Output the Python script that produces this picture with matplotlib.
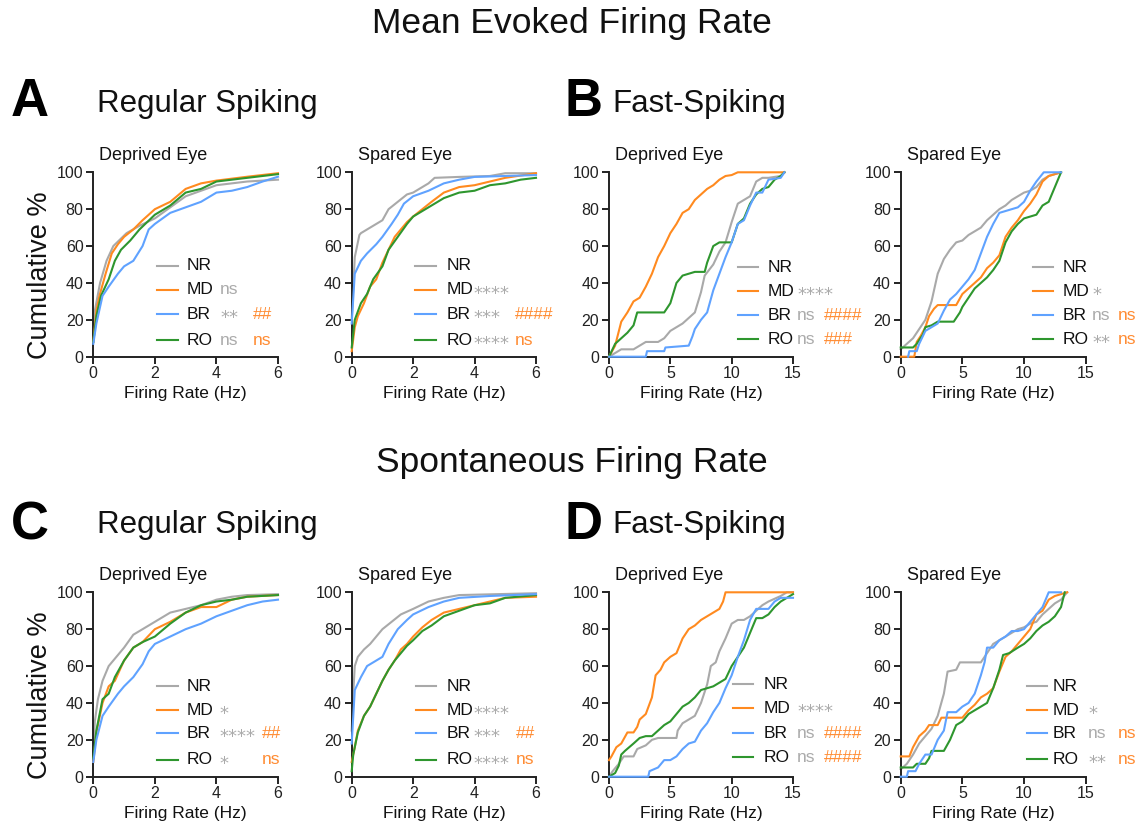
import matplotlib
matplotlib.use("Agg")
import matplotlib.pyplot as plt
from matplotlib.lines import Line2D

plt.rcParams['font.family'] = ['Liberation Sans', 'DejaVu Sans']

W, H = 1143, 830
C_NR = '#A9A9A9'
C_MD = '#FF8A1F'
C_BR = '#5FA2FF'
C_RO = '#2E962E'
C_STAR = '#ABABAB'
C_HASH = '#FF8C33'
C_AX = '#222222'

groups = ['NR', 'MD', 'BR', 'RO']

# ---------------- Panel A, Deprived Eye (RS evoked) ----------------
A_dep_NR_x = [0, 0.05, 0.22, 0.43, 0.65, 1.08, 1.5, 2.0, 2.5, 3.0, 3.5, 4.0, 5.0, 6.0]
A_dep_NR_y = [8, 25, 40, 52, 60, 67, 71, 75, 81, 87, 90, 93, 95, 96]
A_dep_MD_x = [0, 0.1, 0.2, 0.4, 0.6, 0.8, 1.0, 1.3, 1.6, 2.0, 2.5, 3.0, 3.5, 4.0, 5.0, 6.0]
A_dep_MD_y = [8, 25, 33, 45, 56, 61, 65, 69, 74, 80, 84, 91, 94, 95.5, 97.6, 99.5]
A_dep_BR_x = [0, 0.1, 0.3, 0.5, 0.8, 1.0, 1.3, 1.6, 1.8, 2.0, 2.5, 3.0, 3.5, 4.0, 4.5, 5.0, 5.5, 6.0]
A_dep_BR_y = [7, 18, 33, 38, 45, 49, 52, 60, 69, 72, 78, 81, 84, 89, 90, 92, 95, 97.6]
A_dep_RO_x = [0, 0.1, 0.25, 0.5, 0.7, 0.9, 1.2, 1.5, 2.0, 2.5, 3.0, 3.5, 4.0, 5.0, 6.0]
A_dep_RO_y = [8, 22, 33, 42, 52, 58, 63, 69, 77, 82, 89, 91, 95, 97, 99]

# ---------------- Panel A, Spared Eye ----------------
A_spa_NR_x = [0, 0.1, 0.25, 0.3, 0.5, 0.8, 1.0, 1.2, 1.5, 1.8, 2.0, 2.3, 2.5, 2.7, 3.5, 4.5, 5.0, 6.0]
A_spa_NR_y = [20, 54, 66, 67, 69, 72, 74, 80, 84, 88, 89, 92, 94, 97, 97.5, 98, 99.5, 99.5]
A_spa_MD_x = [0, 0.1, 0.2, 0.4, 0.6, 0.8, 1.0, 1.2, 1.4, 1.6, 1.8, 2.0, 2.3, 2.6, 3.0, 3.5, 4.0, 4.5, 5.0, 6.0]
A_spa_MD_y = [3, 16, 22, 29, 38, 42, 51, 58, 65, 69, 73, 76, 80, 84, 89, 92, 93, 95, 97, 99.5]
A_spa_BR_x = [0, 0.1, 0.3, 0.5, 0.8, 1.0, 1.3, 1.5, 1.7, 2.0, 2.5, 3.0, 3.5, 4.0, 5.0, 6.0]
A_spa_BR_y = [18, 45, 52, 56, 61, 65, 72, 77, 83, 87, 90, 94, 96, 97.5, 98, 98.5]
A_spa_RO_x = [0, 0.1, 0.3, 0.5, 0.7, 1.0, 1.2, 1.5, 1.8, 2.0, 2.5, 3.0, 3.5, 4.0, 4.5, 5.0, 5.5, 6.0]
A_spa_RO_y = [5, 20, 29, 34, 42, 49, 58, 65, 72, 76, 81, 86, 89, 90, 93, 94, 96, 97]

# ---------------- Panel B, Deprived Eye (FS evoked) ----------------
B_dep_NR_x = [0, 0.5, 1, 2, 2.5, 3, 4, 4.5, 5, 5.5, 6, 6.5, 7, 7.5, 7.8, 8.5, 9, 9.5, 10, 10.5, 11, 11.5, 12, 12.5, 13, 14, 14.3]
B_dep_NR_y = [0, 2, 4, 4, 6, 8, 8, 10, 14, 16, 18, 21, 24, 35, 44, 50, 57, 62, 73, 83, 85, 87, 95, 97, 97, 98, 100]
B_dep_MD_x = [0, 0.5, 1, 1.5, 2, 2.5, 3, 3.5, 4, 4.5, 5, 5.5, 6, 6.5, 7, 7.5, 8, 8.5, 9, 9.5, 10, 10.5, 14.3]
B_dep_MD_y = [0, 6, 19, 24, 30, 32, 38, 45, 54, 60, 67, 72, 78, 80, 85, 88, 91, 93, 96, 98, 98.5, 100, 100]
B_dep_BR_x = [0, 3, 3.1, 4.5, 4.6, 6.5, 6.8, 7, 7.5, 8, 8.5, 9, 9.5, 10, 10.5, 11, 11.5, 12, 12.5, 13, 14, 14.3]
B_dep_BR_y = [0, 0, 3, 3, 5, 6, 11, 15, 20, 24, 36, 45, 54, 62, 72, 74, 82, 89, 89, 96, 97, 100]
B_dep_RO_x = [0, 0.5, 1, 1.5, 2, 2.3, 4.5, 5, 5.5, 6, 7, 7.8, 8, 8.5, 9, 10, 10.5, 11, 11.5, 12, 12.5, 13, 13.5, 14, 14.3]
B_dep_RO_y = [0, 7, 10, 13, 17, 24, 24, 29, 40, 44, 46, 46, 51, 60, 62, 62, 72, 75, 83, 88, 91, 92, 96, 98, 100]

# ---------------- Panel B, Spared Eye ----------------
B_spa_NR_x = [0, 0.5, 1, 1.5, 2, 2.5, 3, 3.5, 4, 4.5, 5, 5.5, 6, 6.5, 7, 7.5, 8, 8.5, 9, 9.5, 10, 10.5, 11, 11.5, 12, 13]
B_spa_NR_y = [4, 7, 10, 15, 20, 30, 45, 53, 58, 62, 63, 66, 68, 70, 74, 77, 80, 82, 85, 87, 89, 90, 92, 96, 98, 100]
B_spa_MD_x = [0, 1.1, 1.3, 1.6, 2, 2.3, 2.7, 3, 4.5, 5, 5.5, 6, 6.5, 7, 7.5, 8, 8.5, 9, 9.5, 10, 10.5, 11, 11.5, 12, 13]
B_spa_MD_y = [0, 0, 8, 11, 16, 22, 26, 28, 28, 34, 37, 40, 43, 48, 51, 55, 65, 70, 74, 79, 83, 88, 95, 98, 100]
B_spa_BR_x = [0.6, 0.7, 1.3, 1.5, 2, 2.5, 3, 3.5, 4, 4.5, 5, 5.5, 6, 6.5, 7, 7.5, 8, 9, 9.5, 10, 10.5, 11, 11.6, 13]
B_spa_BR_y = [0, 3, 3, 7, 14, 16, 18, 25, 31, 34, 38, 42, 47, 56, 65, 72, 78, 80, 81, 84, 90, 95, 100, 100]
B_spa_RO_x = [0, 1, 1.3, 1.8, 2, 2.5, 3, 4.3, 4.8, 5, 5.5, 6, 6.5, 7, 7.5, 8, 8.5, 9, 9.5, 10, 11, 11.5, 12, 12.5, 13]
B_spa_RO_y = [5, 5, 7, 12, 16, 17, 19, 19, 24, 27, 32, 37, 40, 43, 47, 52, 62, 68, 72, 75, 77, 82, 84, 92, 100]

# ---------------- Panel C, Deprived Eye (RS spontaneous) ----------------
C_dep_NR_x = [0, 0.05, 0.15, 0.3, 0.5, 0.8, 1.0, 1.3, 1.6, 2.0, 2.5, 3.0, 3.5, 4.0, 4.5, 5.0, 6.0]
C_dep_NR_y = [12, 30, 42, 52, 60, 66, 70, 77, 80, 84, 89, 91, 93, 96, 97.6, 98.5, 99]
C_dep_MD_x = [0, 0.1, 0.3, 0.5, 0.7, 1.0, 1.3, 1.6, 2.0, 2.5, 3.0, 3.5, 4.0, 4.5, 5.0, 6.0]
C_dep_MD_y = [8, 24, 40, 49, 52, 63, 70, 73, 80, 84, 89, 92, 92, 96, 97.6, 98.5]
C_dep_BR_x = [0, 0.1, 0.3, 0.5, 0.8, 1.0, 1.3, 1.6, 1.8, 2.0, 2.5, 3.0, 3.5, 4.0, 4.5, 5.0, 5.5, 6.0]
C_dep_BR_y = [8, 20, 33, 38, 45, 49, 54, 61, 68, 72, 76, 80, 83, 87, 90, 93, 95, 96]
C_dep_RO_x = [0, 0.1, 0.3, 0.5, 0.7, 1.0, 1.3, 1.6, 2.0, 2.5, 3.0, 3.5, 4.0, 4.5, 5.0, 6.0]
C_dep_RO_y = [10, 25, 42, 45, 54, 63, 70, 73, 76, 83, 89, 93, 95, 96, 97.6, 98.5]

# ---------------- Panel C, Spared Eye ----------------
C_spa_NR_x = [0, 0.05, 0.1, 0.2, 0.4, 0.6, 0.8, 1.0, 1.3, 1.6, 2.0, 2.5, 3.0, 3.5, 6.0]
C_spa_NR_y = [25, 45, 60, 65, 69, 72, 76, 80, 84, 88, 91, 95, 97, 98.5, 99.5]
C_spa_MD_x = [0, 0.1, 0.2, 0.4, 0.6, 0.8, 1.0, 1.2, 1.4, 1.6, 1.8, 2.0, 2.3, 2.6, 3.0, 3.5, 4.0, 4.5, 5.0, 6.0]
C_spa_MD_y = [8, 16, 25, 33, 38, 45, 52, 58, 63, 69, 72, 76, 81, 85, 89, 91, 93, 95, 97, 97.6]
C_spa_BR_x = [0, 0.1, 0.3, 0.5, 0.8, 1.0, 1.2, 1.5, 1.8, 2.0, 2.5, 3.0, 3.5, 4.5, 6.0]
C_spa_BR_y = [18, 47, 54, 60, 63, 65, 72, 80, 85, 88, 92, 95, 97, 98, 99]
C_spa_RO_x = [0, 0.05, 0.2, 0.4, 0.6, 0.8, 1.0, 1.2, 1.4, 1.6, 1.8, 2.0, 2.3, 2.6, 3.0, 3.5, 4.0, 4.5, 5.0, 6.0]
C_spa_RO_y = [3, 12, 24, 33, 38, 45, 52, 58, 63, 67, 71, 74, 79, 82, 87, 90, 93, 94, 97, 98.5]

# ---------------- Panel D, Deprived Eye (FS spontaneous) ----------------
D_dep_NR_x = [0, 0.3, 0.8, 1.2, 2, 2.3, 3, 3.5, 4, 5.5, 5.6, 6, 6.5, 7, 7.5, 8, 8.3, 8.7, 9, 9.5, 10, 10.5, 11, 11.5, 12, 12.5, 13, 14, 14.5, 15]
D_dep_NR_y = [0, 3, 7, 11, 11, 15, 17, 20, 21, 21, 25, 29, 31, 33, 40, 50, 60, 62, 68, 75, 83, 85, 85, 87, 90, 93, 95, 98, 100, 100]
D_dep_MD_x = [0, 0.2, 0.6, 1, 1.5, 2, 2.3, 2.5, 3, 3.5, 3.8, 4.2, 4.5, 5, 5.5, 6, 6.5, 7, 7.5, 8, 8.5, 9, 9.3, 9.5, 15]
D_dep_MD_y = [9, 11, 16, 18, 24, 24, 27, 31, 34, 43, 55, 58, 62, 65, 67, 75, 80, 82, 85, 87, 89, 91, 95, 100, 100]
D_dep_BR_x = [0, 3.2, 3.3, 4, 4.5, 5, 5.5, 6, 6.5, 7, 7.5, 8, 8.5, 9, 9.5, 10, 10.5, 11, 11.5, 12, 13, 13.5, 14, 15]
D_dep_BR_y = [0, 0, 3, 5, 9, 9, 11, 15, 18, 19, 25, 29, 35, 40, 48, 55, 65, 74, 85, 91, 91, 95, 97, 97]
D_dep_RO_x = [0, 0.5, 0.8, 1.0, 1.3, 2, 2.5, 3, 3.5, 4, 4.5, 5, 5.5, 6, 6.5, 7, 7.5, 8, 8.5, 9, 9.5, 10, 10.5, 11, 11.5, 12, 12.5, 13, 13.5, 14, 14.5, 15]
D_dep_RO_y = [0, 2, 6, 12, 14, 18, 21, 22, 22, 25, 28, 30, 34, 38, 40, 43, 47, 48, 49, 51, 53, 60, 65, 70, 78, 86, 86, 88, 92, 95, 97, 99]

# ---------------- Panel D, Spared Eye ----------------
D_spa_NR_x = [0, 0.5, 1, 1.5, 2, 2.5, 3, 3.5, 3.8, 4.5, 4.8, 6.5, 7, 7.5, 8, 8.5, 9, 9.5, 10, 10.5, 11, 11.5, 12, 12.5, 13, 13.5]
D_spa_NR_y = [4, 7, 12, 18, 22, 26, 33, 45, 57, 58, 62, 62, 67, 72, 74, 76, 78, 80, 81, 83, 84, 88, 91, 94, 96, 100]
D_spa_MD_x = [0, 0.7, 1, 1.5, 2, 2.3, 3, 3.3, 5, 5.5, 6, 6.5, 7, 7.5, 8, 8.5, 9, 9.5, 10, 10.5, 11, 11.5, 12, 12.5, 13.5]
D_spa_MD_y = [11, 11, 16, 22, 25, 28, 28, 32, 32, 36, 39, 43, 45, 48, 57, 65, 68, 72, 76, 80, 88, 90, 96, 98, 100]
D_spa_BR_x = [0, 0.5, 0.6, 1.2, 1.5, 2, 2.5, 3, 3.5, 3.8, 4.5, 5, 5.5, 6, 6.5, 6.8, 7, 7.5, 8, 8.5, 9, 9.5, 10, 10.5, 11, 11.5, 12, 13]
D_spa_BR_y = [0, 0, 3, 3, 7, 12, 12, 20, 25, 35, 35, 38, 40, 45, 55, 62, 70, 70, 74, 76, 79, 79, 80, 84, 88, 92, 100, 100]
D_spa_RO_x = [0, 1, 1.3, 2, 2.3, 2.5, 3.5, 4, 4.5, 5, 5.5, 6, 6.5, 7, 7.5, 8, 8.3, 8.8, 9.5, 10, 10.5, 11, 11.5, 12, 12.5, 13, 13.3]
D_spa_RO_y = [5, 5, 7, 7, 10, 14, 14, 20, 28, 30, 34, 36, 38, 40, 48, 58, 66, 67, 70, 72, 75, 79, 82, 84, 87, 92, 100]

# Significance annotations (vs NR, vs MD)
A_dep_sig = ['', 'ns', '**', 'ns'];        A_dep_hash = ['', '', '##', 'ns']
A_spa_sig = ['', '****', '***', '****'];   A_spa_hash = ['', '', '####', 'ns']
B_dep_sig = ['', '****', 'ns', 'ns'];      B_dep_hash = ['', '', '####', '###']
B_spa_sig = ['', '*', 'ns', '**'];         B_spa_hash = ['', '', 'ns', 'ns']
C_dep_sig = ['', '*', '****', '*'];        C_dep_hash = ['', '', '##', 'ns']
C_spa_sig = ['', '****', '***', '****'];   C_spa_hash = ['', '', '##', 'ns']
D_dep_sig = ['', '****', 'ns', 'ns'];      D_dep_hash = ['', '', '####', '####']
D_spa_sig = ['', '*', 'ns', '**'];         D_spa_hash = ['', '', 'ns', 'ns']

fig = plt.figure(figsize=(W / 100, H / 100), dpi=100)
fig.patch.set_facecolor('white')


def fx(px):
    return px / W


def fy(py):
    return 1 - py / H


def add_axes(x0, x1, ytop, ybot):
    return fig.add_axes([fx(x0), fy(ybot), fx(x1 - x0), (ybot - ytop) / H])


panels = [
    dict(box=(93.3, 278, 172.3, 356.7), xmax=6, xt=[0, 2, 4, 6], title='Deprived Eye',
         data=[(A_dep_NR_x, A_dep_NR_y), (A_dep_MD_x, A_dep_MD_y), (A_dep_BR_x, A_dep_BR_y), (A_dep_RO_x, A_dep_RO_y)],
         leg=(157, 178, 187, 220, 253, [266, 290, 314, 340]), sig=A_dep_sig, hsh=A_dep_hash),
    dict(box=(351.7, 536, 172.3, 356.7), xmax=6, xt=[0, 2, 4, 6], title='Spared Eye',
         data=[(A_spa_NR_x, A_spa_NR_y), (A_spa_MD_x, A_spa_MD_y), (A_spa_BR_x, A_spa_BR_y), (A_spa_RO_x, A_spa_RO_y)],
         leg=(415, 436, 447, 473, 515, [266, 290, 314, 340]), sig=A_spa_sig, hsh=A_spa_hash),
    dict(box=(609, 793, 172.3, 356.7), xmax=15, xt=[0, 5, 10, 15], title='Deprived Eye',
         data=[(B_dep_NR_x, B_dep_NR_y), (B_dep_MD_x, B_dep_MD_y), (B_dep_BR_x, B_dep_BR_y), (B_dep_RO_x, B_dep_RO_y)],
         leg=(738, 758, 768, 797, 824, [267, 291, 315, 339]), sig=B_dep_sig, hsh=B_dep_hash),
    dict(box=(900.7, 1085.7, 172.3, 356.7), xmax=15, xt=[0, 5, 10, 15], title='Spared Eye',
         data=[(B_spa_NR_x, B_spa_NR_y), (B_spa_MD_x, B_spa_MD_y), (B_spa_BR_x, B_spa_BR_y), (B_spa_RO_x, B_spa_RO_y)],
         leg=(1033, 1053, 1063, 1092, 1118, [267, 291, 315, 339]), sig=B_spa_sig, hsh=B_spa_hash),
    dict(box=(93.3, 278, 592.3, 776.7), xmax=6, xt=[0, 2, 4, 6], title='Deprived Eye',
         data=[(C_dep_NR_x, C_dep_NR_y), (C_dep_MD_x, C_dep_MD_y), (C_dep_BR_x, C_dep_BR_y), (C_dep_RO_x, C_dep_RO_y)],
         leg=(157, 178, 187, 219, 262, [686, 710, 733, 760]), sig=C_dep_sig, hsh=C_dep_hash),
    dict(box=(351.7, 536, 592.3, 776.7), xmax=6, xt=[0, 2, 4, 6], title='Spared Eye',
         data=[(C_spa_NR_x, C_spa_NR_y), (C_spa_MD_x, C_spa_MD_y), (C_spa_BR_x, C_spa_BR_y), (C_spa_RO_x, C_spa_RO_y)],
         leg=(416, 436, 447, 473, 516, [686, 710, 733, 760]), sig=C_spa_sig, hsh=C_spa_hash),
    dict(box=(609, 793, 592.3, 776.7), xmax=15, xt=[0, 5, 10, 15], title='Deprived Eye',
         data=[(D_dep_NR_x, D_dep_NR_y), (D_dep_MD_x, D_dep_MD_y), (D_dep_BR_x, D_dep_BR_y), (D_dep_RO_x, D_dep_RO_y)],
         leg=(733, 753, 764, 797, 824, [684, 708, 733, 757]), sig=D_dep_sig, hsh=D_dep_hash),
    dict(box=(900.7, 1085.7, 592.3, 776.7), xmax=15, xt=[0, 5, 10, 15], title='Spared Eye',
         data=[(D_spa_NR_x, D_spa_NR_y), (D_spa_MD_x, D_spa_MD_y), (D_spa_BR_x, D_spa_BR_y), (D_spa_RO_x, D_spa_RO_y)],
         leg=(1027, 1047, 1053, 1088, 1118, [686, 710, 733, 759]), sig=D_spa_sig, hsh=D_spa_hash),
]

colors = [C_NR, C_MD, C_BR, C_RO]
zorders = [2, 3, 4, 3]

for p in panels:
    x0, x1, yt, yb = p['box']
    ax = add_axes(x0, x1, yt, yb)
    for (xs, ys), c, z in zip(p['data'], colors, zorders):
        ax.plot(xs, ys, color=c, lw=1.5, zorder=z, clip_on=False)
    ax.set_xlim(0, p['xmax'])
    ax.set_ylim(0, 100)
    ax.set_xticks(p['xt'])
    ax.set_yticks([0, 20, 40, 60, 80, 100])
    for s in ['top', 'right']:
        ax.spines[s].set_visible(False)
    for s in ['left', 'bottom']:
        ax.spines[s].set_linewidth(1.4)
        ax.spines[s].set_color(C_AX)
    ax.tick_params(direction='out', length=5, width=1.4, colors=C_AX, labelsize=11.5, pad=2)
    ax.set_facecolor('none')
    ax.set_xlabel('Firing Rate (Hz)', fontsize=12.5, labelpad=3, color='#111111')
    fig.text(fx(x0 + 6), fy(yt - 17), p['title'], fontsize=13, ha='left', va='center', color='#111111')
    l0, l1, lt, ls, lh, rows = p['leg']
    for g, c, ry, sg, hs in zip(groups, colors, rows, p['sig'], p['hsh']):
        fig.add_artist(Line2D([fx(l0), fx(l1)], [fy(ry), fy(ry)], color=c, lw=1.5,
                              transform=fig.transFigure))
        fig.text(fx(lt), fy(ry), g, fontsize=12.5, ha='left', va='center', color='#111111')
        if sg:
            if '*' in sg:
                fig.text(fx(ls), fy(ry + 4), sg, fontsize=13, ha='left', va='center', color=C_STAR,
                         family='DejaVu Sans')
            else:
                fig.text(fx(ls), fy(ry), sg, fontsize=12.5, ha='left', va='center', color=C_STAR)
        if hs:
            fig.text(fx(lh), fy(ry), hs, fontsize=12.5, ha='left', va='center', color=C_HASH)

fig.text(fx(571.5), fy(23), 'Mean Evoked Firing Rate', fontsize=25.5, ha='center', va='center', color='#111111')
fig.text(fx(571.5), fy(462), 'Spontaneous Firing Rate', fontsize=25.5, ha='center', va='center', color='#111111')

for letter, lx, ly in [('A', 11, 102), ('B', 565, 102), ('C', 11, 525), ('D', 565, 525)]:
    fig.text(fx(lx), fy(ly), letter, fontsize=38, fontweight='bold', ha='left', va='center', color='black')

for txt, tx, ty in [('Regular Spiking', 97, 104), ('Fast-Spiking', 612, 104),
                    ('Regular Spiking', 97, 525), ('Fast-Spiking', 612, 525)]:
    fig.text(fx(tx), fy(ty), txt, fontsize=22.5, ha='left', va='center', color='#111111')

for cy in [275, 695]:
    fig.text(fx(40), fy(cy), 'Cumulative %', fontsize=19.5, rotation=90, ha='center', va='center', color='#111111')

fig.savefig('out.png', dpi=100, facecolor='white')
